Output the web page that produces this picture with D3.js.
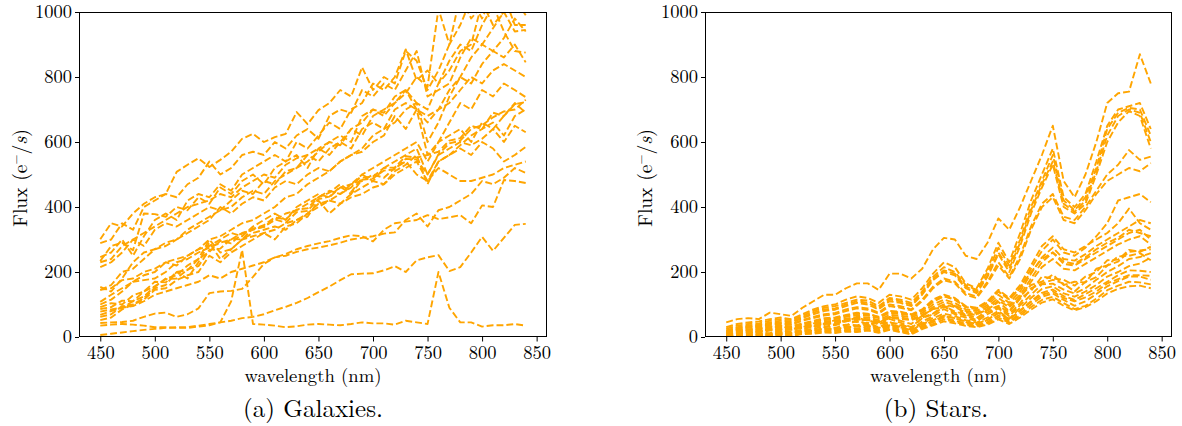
<!DOCTYPE html>
<html>
<head>
<meta charset="utf-8">
<script src="https://cdn.jsdelivr.net/npm/d3@7"></script>
<style>
  body { margin: 0; background: #fff; }
  svg { display: block; }
</style>
</head>
<body>
<svg id="chart" width="1182" height="426"></svg>
<script>
// Sampled wavelengths (nm), shared by both panels
const wavelengths = [450,460,470,480,490,500,510,520,530,540,
                     550,560,570,580,590,600,610,620,630,640,
                     650,660,670,680,690,700,710,720,730,740,
                     750,760,770,780,790,800,810,820,830,840];

const xTicks = [450, 500, 550, 600, 650, 700, 750, 800, 850];
const yTicks = [0, 200, 400, 600, 800, 1000];

// Galaxy spectra, flux in e-/s, one row per object
const galaxyFlux = [
  [301,350,340,380,410,430,440,508,530,550, 523,545,570,610,625,600,615,625,692,655, 698,720,760,740,830,760,800,780,880,850, 760,820,900,1050,980,1020,1000,1050,960,960],
  [289,300,350,330,400,420,440,430,470,490, 540,500,520,560,570,560,600,580,620,640, 610,680,700,690,760,740,780,760,820,880, 740,760,780,860,920,900,950,1000,940,945],
  [246,260,300,250,310,360,380,360,420,440, 430,470,450,500,520,540,560,540,600,580, 620,660,640,700,720,780,760,800,885,790, 820,780,850,900,880,960,1020,940,880,875],
  [234,280,290,267,380,378,370,400,390,430, 410,460,440,480,500,470,520,540,560,520, 580,600,620,600,680,700,690,740,760,720, 600,660,740,800,780,840,880,860,900,845],
  [230,240,280,300,320,340,360,380,400,410, 420,440,430,460,480,500,490,530,550,560, 580,560,600,640,620,680,700,720,760,700, 680,700,760,800,860,900,880,920,980,940],
  [215,230,260,300,280,330,350,340,360,380, 400,390,420,450,440,480,470,510,520,560, 540,580,600,580,640,660,640,700,720,700, 660,700,720,760,800,780,820,840,820,800],
  [154,140,180,230,260,270,290,300,320,340, 360,400,380,410,430,420,460,480,470,500, 520,510,540,560,570,600,620,680,640,700, 560,600,660,720,700,760,740,780,760,738],
  [145,160,200,210,240,270,280,300,330,350, 370,390,400,430,450,440,480,500,520,540, 570,600,590,640,660,700,680,720,750,800, 770,1010,900,960,1040,980,1060,1000,1040,990],
  [145,150,175,180,200,210,230,220,250,270, 280,300,320,310,340,360,380,360,400,420, 440,430,460,470,480,500,490,520,540,500, 480,520,500,480,480,490,500,520,530,540],
  [108,130,150,170,190,200,230,240,250,270, 300,310,330,350,360,380,400,430,440,470, 490,510,540,560,580,620,640,660,700,720, 700,780,820,880,900,1030,960,1000,1080,1000],
  [100,115,140,170,175,180,200,230,240,260, 275,290,300,320,330,340,360,380,390,410, 430,450,440,470,500,520,540,560,580,600, 540,600,620,640,600,660,640,680,720,690],
  [92,104,100,128,140,170,168,200,206,240, 262,296,288,318,332,344,368,362,392,396, 430,444,470,446,490,494,520,522,556,552, 560,570,604,612,650,640,690,680,716,723],
  [86,92,112,110,140,156,178,180,208,218, 268,272,302,300,334,338,362,352,384,388, 424,432,462,440,484,488,512,516,548,546, 500,562,596,604,640,652,676,694,700,730],
  [78,85,90,95,110,130,140,150,160,170, 190,180,200,210,220,230,245,255,270,280, 288,295,305,313,310,294,330,350,355,360, 375,363,368,375,350,405,400,483,480,474],
  [68,80,90,110,125,155,180,190,220,240, 300,260,270,300,310,320,330,350,360,370, 420,380,410,430,440,460,470,500,520,540, 480,540,560,590,620,640,660,620,680,700],
  [62,70,95,100,120,150,160,200,180,230, 290,240,270,300,320,330,340,330,360,380, 410,420,440,460,500,480,520,540,560,580, 500,560,580,600,590,610,640,600,650,630],
  [52,60,85,100,115,145,150,175,190,200, 250,230,260,280,300,320,300,340,350,380, 400,420,410,440,460,480,470,510,530,560, 470,540,560,580,560,600,580,540,560,585],
  [43,45,46,50,62,72,75,62,70,88, 135,140,142,148,185,225,245,250,262,270, 275,282,290,300,305,310,318,322,360,380, 340,390,400,420,440,480,470,490,520,505],
  [35,38,40,38,35,30,30,28,28,32, 36,45,110,268,40,38,35,30,33,38, 40,38,36,40,45,42,42,38,50,45, 40,200,90,45,45,32,36,36,40,35],
  [6,10,14,18,22,25,28,30,30,35, 40,45,50,58,62,70,82,93,105,120, 138,155,175,193,195,196,205,218,200,236, 245,252,203,215,260,308,265,305,345,348]
];

// Stellar spectra, flux in e-/s, one row per object
const starFlux = [
  [45,55,58,55,75,70,65,90,110,130, 130,150,165,165,145,195,195,180,210,270, 305,300,250,240,290,365,330,400,480,560, 650,480,430,500,600,720,750,755,870,780],
  [30,40,45,48,55,60,55,70,85,95, 100,115,125,120,105,130,125,115,150,195, 230,215,165,150,210,290,230,320,420,500, 580,430,400,440,540,650,700,710,720,640],
  [25,35,40,42,50,55,52,65,80,90, 95,105,115,112,95,120,115,105,140,185, 215,200,160,145,200,275,220,300,400,480, 560,420,390,430,520,640,690,705,700,620],
  [20,30,35,38,45,50,48,60,75,85, 88,100,110,105,90,115,110,100,135,180, 205,195,155,140,190,260,210,290,390,470, 540,410,385,420,510,620,680,700,690,600],
  [18,28,32,35,42,45,45,58,70,80, 84,95,105,100,85,110,105,95,130,175, 200,190,150,135,185,255,200,280,380,460, 530,400,380,410,500,600,660,695,680,580],
  [15,25,30,32,40,42,40,52,62,70, 74,85,92,88,75,100,95,85,115,155, 180,170,135,125,170,230,185,250,340,410, 440,370,360,400,450,500,530,575,545,555],
  [12,22,28,30,37,40,38,50,58,66, 70,80,88,84,72,95,90,82,110,150, 175,165,130,120,165,220,180,240,330,400, 430,360,350,390,440,480,500,520,510,535],
  [14,20,24,26,32,34,32,40,48,54, 58,66,72,70,62,78,76,68,82,110, 126,116,92,88,106,140,116,152,200,240, 260,232,225,245,270,290,305,330,320,310],
  [10,18,22,25,32,35,33,42,50,58, 60,68,75,72,62,80,78,70,85,115, 130,120,95,90,110,145,120,160,220,280, 310,270,260,280,300,320,350,395,350,330],
  [8,15,20,22,28,30,30,38,46,52, 55,62,68,66,58,74,72,65,80,108, 125,115,92,85,105,140,115,150,210,265, 300,260,250,275,310,350,420,430,440,415],
  [10,14,22,18,26,34,24,30,42,40, 52,48,60,50,44,62,50,40,66,86, 92,96,66,70,84,108,80,124,160,170, 192,160,170,168,210,220,248,250,258,236],
  [6,12,16,18,24,27,27,34,42,48, 50,56,62,60,52,68,66,60,74,100, 115,105,85,80,98,130,105,140,195,245, 275,240,235,255,280,300,320,340,360,350],
  [5,10,14,16,22,24,24,30,38,44, 46,52,58,55,48,62,60,55,68,92, 108,98,80,74,92,120,98,130,180,230, 260,225,220,240,260,280,300,320,330,300],
  [7,11,10,18,24,20,26,30,28,42, 36,50,46,54,38,56,44,30,60,72, 96,78,70,58,82,96,76,118,142,186, 180,176,158,186,200,236,238,268,262,278],
  [4,9,12,14,20,22,22,28,35,40, 42,48,54,52,45,58,56,52,64,86, 100,92,75,70,86,112,92,122,170,215, 240,210,205,225,245,265,285,300,310,285],
  [3,8,6,14,12,20,16,22,34,30, 40,36,50,40,42,44,40,26,58,70, 94,74,66,52,76,92,70,104,150,164, 176,164,140,170,184,220,232,262,266,270],
  [2,6,4,10,8,16,12,20,24,34, 28,38,36,44,30,46,36,22,48,64, 86,70,60,48,70,88,64,98,130,162, 164,146,134,150,176,200,218,240,246,258],
  [2,5,3,8,6,14,10,18,20,28, 24,32,34,38,26,40,30,18,42,58, 72,64,52,44,60,80,56,90,120,148, 156,134,124,140,160,186,200,218,226,244],
  [3,6,5,9,10,14,12,16,20,26, 24,30,32,34,28,36,32,20,40,52, 66,58,48,40,54,74,52,82,108,130, 140,120,110,122,140,165,178,190,190,188],
  [1,4,2,7,6,12,8,15,18,24, 20,28,26,32,24,34,26,14,36,50, 64,58,46,40,52,74,56,80,110,136, 146,126,114,132,150,170,190,205,204,200],
  [1,3,2,6,5,10,6,13,14,20, 18,24,22,28,20,30,22,12,32,46, 60,50,42,36,46,66,48,72,100,124, 134,114,96,110,132,156,172,186,186,176],
  [0,3,1,5,3,9,4,11,12,17, 14,20,18,24,16,26,18,10,28,40, 54,46,38,32,42,60,44,66,92,114, 124,104,86,96,118,144,158,170,168,162],
  [0,2,1,4,2,7,3,9,10,14, 12,17,15,20,13,22,15,8,24,36, 48,42,34,30,38,54,40,60,84,106, 116,96,82,92,110,134,148,156,158,150]
];

// Pick the first installed serif face; canvas widths differ from the
// generic fallbacks only when the named face actually exists.
function pickSerif() {
  const candidates = ["Latin Modern Roman", "CMU Serif", "Liberation Serif", "Tinos",
    "Times New Roman", "DejaVu Serif", "Noto Serif", "FreeSerif", "Nimbus Roman",
    "Georgia", "Noto Serif CJK SC", "Noto Serif CJK JP"];
  const ctx = document.createElement("canvas").getContext("2d");
  const sample = "wavelength (nm) Galaxies 0123456789 Flux";
  const base = {};
  ["monospace", "sans-serif"].forEach(f => { ctx.font = `40px ${f}`; base[f] = ctx.measureText(sample).width; });
  for (const name of candidates) {
    for (const f of ["monospace", "sans-serif"]) {
      ctx.font = `40px "${name}", ${f}`;
      if (Math.abs(ctx.measureText(sample).width - base[f]) > 0.5) return `"${name}", serif`;
    }
  }
  return "serif";
}
const serif = pickSerif();

// Panel layout
const plotTop = 12, plotBottom = 337;
const panels = [
  { id: "gal", flux: galaxyFlux, caption: "(a) Galaxies.", left: 79,  right: 547,  ylabelX: 27,  captionX: 313 },
  { id: "star", flux: starFlux,  caption: "(b) Stars.",    left: 705, right: 1172, ylabelX: 652, captionX: 936 }
];

const svg = d3.select("#chart");
const lineColor = "#ffa500";

// Font size giving a text a wanted rendered width
function sizeFor(str, width) {
  const t = svg.append("text").attr("font-family", serif).attr("font-size", 100).text(str);
  const w = t.node().getComputedTextLength();
  t.remove();
  return 100 * width / w;
}
const tickSize = sizeFor("1000", 37);
const labelSize = sizeFor("wavelength (nm)", 137);
const captionSize = sizeFor("(a) Galaxies.", 140);

panels.forEach(p => {
  const x = d3.scaleLinear().domain([430.5, 859.5]).range([p.left, p.right]);
  const y = d3.scaleLinear().domain([0, 1000]).range([plotBottom, plotTop]);

  const g = svg.append("g").attr("font-family", serif);

  g.append("clipPath").attr("id", "clip-" + p.id)
    .append("rect")
    .attr("x", p.left).attr("y", plotTop)
    .attr("width", p.right - p.left).attr("height", plotBottom - plotTop);

  const line = d3.line()
    .defined(d => d != null)
    .x((d, i) => x(wavelengths[i]))
    .y(d => y(d));

  g.append("g").attr("clip-path", `url(#clip-${p.id})`)
    .selectAll("path")
    .data(p.flux)
    .join("path")
    .attr("d", line)
    .attr("fill", "none")
    .attr("stroke", lineColor)
    .attr("stroke-width", 1.9)
    .attr("stroke-dasharray", "6.9,3")
    .attr("stroke-linejoin", "round");

  // x axis
  const xa = g.append("g")
    .attr("transform", `translate(0,${plotBottom})`)
    .call(d3.axisBottom(x).tickValues(xTicks).tickFormat(d3.format("d"))
      .tickSize(4.5).tickPadding(4.5).tickSizeOuter(0));
  xa.attr("font-family", serif).attr("font-size", tickSize);
  xa.select(".domain").remove();
  xa.selectAll("text").attr("fill", "#000");
  xa.selectAll("line").attr("stroke", "#000").attr("stroke-width", 1);

  // y axis
  const ya = g.append("g")
    .attr("transform", `translate(${p.left},0)`)
    .call(d3.axisLeft(y).tickValues(yTicks).tickFormat(d3.format("d"))
      .tickSize(4).tickPadding(3).tickSizeOuter(0));
  ya.attr("font-family", serif).attr("font-size", tickSize);
  ya.select(".domain").remove();
  ya.selectAll("text").attr("fill", "#000");
  ya.selectAll("line").attr("stroke", "#000").attr("stroke-width", 1);

  // frame
  g.append("rect")
    .attr("x", p.left + 0.5).attr("y", plotTop + 0.5)
    .attr("width", p.right - p.left - 1).attr("height", plotBottom - plotTop - 1)
    .attr("fill", "none").attr("stroke", "#000").attr("stroke-width", 1);

  // axis titles
  g.append("text")
    .attr("x", (p.left + p.right) / 2).attr("y", 382)
    .attr("text-anchor", "middle").attr("font-size", labelSize)
    .text("wavelength (nm)");

  const yl = g.append("text")
    .attr("transform", `translate(${p.ylabelX},178) rotate(-90)`)
    .attr("text-anchor", "middle").attr("font-size", labelSize * 1.05);
  yl.append("tspan").text("Flux (e");
  yl.append("tspan").attr("font-size", "0.65em").attr("dy", "-0.55em").text("\u2212");
  yl.append("tspan").attr("dy", "0.36em").text("/");
  yl.append("tspan").attr("font-style", "italic").text("s");
  yl.append("tspan").text(")");

  // caption
  g.append("text")
    .attr("x", p.captionX).attr("y", 417)
    .attr("text-anchor", "middle").attr("font-size", captionSize)
    .text(p.caption);
});
</script>
</body>
</html>
